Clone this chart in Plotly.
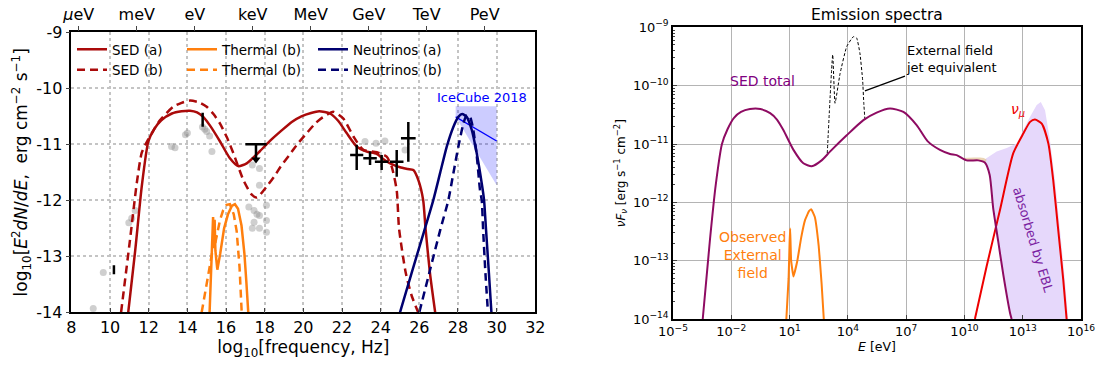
import numpy as np
import plotly.graph_objects as go

# ---------------- LEFT PANEL DATA (log10 nu [Hz], log10 E^2 dN/dE) ----------------
sed_a_x = [10.94, 11.3, 11.64, 11.98, 12.3, 12.65, 13.2, 13.7, 14.14, 14.5, 14.82, 15.2, 15.69, 16.2,
           16.63, 17.07, 17.76, 18.3, 18.82, 19.4, 19.9, 20.4, 20.82, 21.38, 21.8, 22.24, 22.76, 23.28,
           23.8, 24.2, 24.6, 25.0, 25.4, 25.69, 25.95, 26.2, 26.32, 26.55, 26.82]
sed_a_y = [-14.0, -12.9, -11.75, -10.95, -10.72, -10.57, -10.45, -10.41, -10.40, -10.43, -10.51, -10.68,
           -10.95, -11.25, -11.39, -11.34, -11.12, -10.93, -10.77, -10.6, -10.5, -10.44, -10.41, -10.45,
           -10.58, -10.8, -11.04, -11.13, -11.17, -11.28, -11.36, -11.41, -11.44, -11.46, -11.64, -12.0,
           -12.5, -13.3, -14.0]

sed_b_x = [10.57, 11.03, 11.38, 11.64, 11.98, 12.3, 12.58, 13.27, 13.7, 14.14, 14.6, 15.0, 15.35, 15.69,
           16.05, 16.38, 16.9, 17.33, 17.6, 18.09, 18.5, 18.82, 19.3, 19.73, 20.2, 20.64, 21.0, 21.55,
           22.07, 22.59, 23.1, 23.8, 24.31, 24.57, 24.83, 24.95, 25.3, 25.6, 26.0]
sed_b_y = [-14.0, -12.71, -11.7, -11.15, -10.91, -10.72, -10.57, -10.33, -10.26, -10.22, -10.25, -10.33,
           -10.46, -10.63, -10.88, -11.16, -11.64, -11.9, -11.95, -11.76, -11.57, -11.4, -11.18, -10.98,
           -10.79, -10.62, -10.52, -10.42, -10.54, -10.86, -11.1, -11.14, -11.22, -11.4, -11.82, -12.5,
           -13.3, -13.7, -14.05]

therm_a_x = [15.15, 15.28, 15.33, 15.37, 15.41, 15.45, 15.55, 15.7, 15.9, 16.1, 16.3, 16.46, 16.62,
             16.8, 16.95, 17.05, 17.15]
therm_a_y = [-14.0, -12.7, -12.3, -12.8, -12.35, -12.9, -13.24, -12.95, -12.5, -12.25, -12.1, -12.07,
             -12.15, -12.45, -12.95, -13.45, -14.0]

therm_b_x = [14.74, 15.08, 15.3, 15.35, 15.4, 15.48, 15.69, 15.85, 16.03, 16.2, 16.4, 16.55, 16.7, 16.81]
therm_b_y = [-14.0, -13.36, -12.9, -12.55, -12.85, -12.7, -12.35, -12.18, -12.08, -12.07, -12.25, -12.55,
             -13.2, -14.0]

nu_a_x = [25.0, 25.6, 26.18, 26.72, 27.07, 27.42, 27.76, 28.02, 28.22, 28.45, 28.71, 28.97, 29.23, 29.35,
          29.45, 29.6, 29.73]
nu_a_y = [-14.0, -13.3, -12.63, -12.0, -11.52, -11.04, -10.69, -10.51, -10.46, -10.51, -10.74, -11.16,
          -11.7, -12.0, -12.52, -13.3, -14.0]

nu_b_x = [26.0, 26.55, 27.09, 27.5, 27.76, 28.02, 28.28, 28.45, 28.62, 28.79, 28.97, 29.14, 29.23, 29.3,
          29.42, 29.55]
nu_b_y = [-14.0, -13.25, -12.52, -12.0, -11.52, -11.04, -10.63, -10.48, -10.51, -10.74, -11.2, -11.82,
          -12.0, -12.52, -13.3, -14.0]

icecube_band_x = [27.88, 30.0, 30.0, 27.88]
icecube_band_y = [-10.32, -10.32, -11.73, -10.51]
icecube_fit_x = [27.88, 30.0]
icecube_fit_y = [-10.51, -10.94]

gray_x = [9.13, 9.65, 10.97, 11.12, 11.3, 13.18, 13.36, 13.9, 14.0, 14.78, 14.9, 15.0, 15.15, 15.27,
          17.36, 17.73, 17.73, 17.18, 17.45, 17.73, 17.45, 18.09, 18.09, 17.36, 17.73, 18.09, 17.6,
          23.19, 23.76, 24.22, 25.26]
gray_y = [-13.93, -13.29, -12.4, -12.32, -12.18, -11.04, -11.06, -10.83, -10.8, -10.69, -10.73, -10.77,
          -10.85, -11.13, -11.37, -11.43, -11.73, -12.12, -12.18, -12.27, -12.39, -12.09, -12.36, -12.5,
          -12.5, -12.57, -12.25, -10.95, -10.98, -10.94, -11.1]

fermi_x = [22.76, 23.45, 24.05, 24.83, 25.43]
fermi_y = [-11.19, -11.25, -11.31, -11.31, -10.89]
fermi_xerr = [0.34, 0.35, 0.35, 0.35, 0.38]
fermi_yerr_up = [0.18, 0.12, 0.12, 0.21, 0.29]
fermi_yerr_dn = [0.27, 0.12, 0.15, 0.27, 0.42]

bar_x = [14.79, 10.2]
bar_y = [-10.56, -13.24]
bar_yerr = [0.125, 0.08]

ul_x = [17.55]
ul_y = [-11.0]
ul_xerr = [0.55]
ul_len = [0.27]

energy_eV = [1e-6, 1e-3, 1.0, 1e3, 1e6, 1e9, 1e12, 1e15]
energy_labels = ['<i>μ</i>eV', 'meV', 'eV', 'keV', 'MeV', 'GeV', 'TeV', 'PeV']
H_EV_S = 4.135667e-15  # Planck constant, eV s

# ---------------- RIGHT PANEL DATA (log10 E [eV], log10 nuF_nu) ----------------
sed_tot_lx = [-3.47, -3.1, -2.8, -2.48, -2.2, -1.86, -1.5, -1.04, -0.5, 0.0, 0.35, 0.68, 1.2, 1.71,
              2.14, 2.65, 3.08, 3.94, 4.8, 5.48, 6.17, 6.86, 7.55, 8.1, 8.74, 9.26, 9.6, 10.11, 10.71,
              11.06, 11.3, 11.48, 11.74, 12.0, 12.35, 12.43]
sed_tot_ly = [-14.0, -12.65, -11.7, -11.0, -10.75, -10.55, -10.45, -10.40, -10.40, -10.47, -10.58,
              -10.76, -11.1, -11.33, -11.38, -11.28, -11.13, -10.85, -10.59, -10.46, -10.39, -10.45,
              -10.68, -10.95, -11.1, -11.17, -11.19, -11.28, -11.28, -11.32, -11.53, -12.1, -12.67,
              -13.24, -13.9, -14.0]

ext_lx = [2.94, 3.22, 3.34, 3.6, 3.94, 4.28, 4.45, 4.62, 4.76, 4.82, 4.88]
ext_ly = [-11.16, -9.47, -10.30, -9.79, -9.33, -9.16, -9.18, -9.44, -9.9, -10.3, -10.59]

obs_ext_lx = [0.8, 0.95, 1.0, 1.03, 1.08, 1.2, 1.4, 1.6, 1.8, 2.0, 2.12, 2.3, 2.5, 2.65, 2.78]
obs_ext_ly = [-14.2, -13.3, -12.7, -12.45, -13.0, -13.27, -13.0, -12.6, -12.3, -12.15, -12.12, -12.25,
              -12.75, -13.4, -14.1]

ebl_up_lx = [10.89, 11.15, 11.66, 12.18, 12.69, 13.03, 13.38, 13.72, 13.93, 14.15, 14.4, 14.66, 14.92,
             15.17, 15.34]
ebl_up_ly = [-11.3, -11.24, -11.13, -11.07, -10.99, -10.76, -10.53, -10.33, -10.28, -10.42, -10.93,
             -11.62, -12.48, -13.33, -14.0]

tan_up_lx = [9.9, 10.2, 10.5, 10.8, 11.0, 11.15]
tan_up_ly = [-11.24, -11.235, -11.23, -11.23, -11.24, -11.27]

numu_lx = [10.54, 11.14, 11.83, 12.51, 13.03, 13.38, 13.63, 13.98, 14.32, 14.57, 14.83, 15.09, 15.26]
numu_ly = [-14.0, -13.1, -12.13, -11.16, -10.82, -10.62, -10.58, -10.65, -10.99, -11.62, -12.48,
           -13.34, -14.0]

# ---------------- FIGURE ----------------
RED = '#aa0a0a'
ORANGE = '#ff7f0e'
NAVY = '#000070'
DASH = '8px,5px'
p = lambda a: np.power(10.0, np.asarray(a, dtype=float))

fig = go.Figure()

# left panel
fig.add_trace(go.Scatter(x=icecube_band_x, y=icecube_band_y, fill='toself', mode='none',
                         fillcolor='rgba(0,0,255,0.2)', showlegend=False, hoverinfo='skip'))
fig.add_trace(go.Scatter(x=icecube_fit_x, y=icecube_fit_y, mode='lines', line=dict(color='blue', width=1.3),
                         showlegend=False))
fig.add_trace(go.Scatter(x=gray_x, y=gray_y, mode='markers', showlegend=False,
                         marker=dict(size=7, color='rgba(140,140,140,0.42)', line=dict(width=0))))

fig.add_trace(go.Scatter(x=sed_a_x, y=sed_a_y, mode='lines', name='SED (a)', legend='legend',
                         line=dict(color=RED, width=2.5, shape='spline', smoothing=0.6)))
fig.add_trace(go.Scatter(x=sed_b_x, y=sed_b_y, mode='lines', name='SED (b)', legend='legend',
                         line=dict(color=RED, width=2.5, dash=DASH, shape='spline', smoothing=0.6)))
fig.add_trace(go.Scatter(x=therm_a_x, y=therm_a_y, mode='lines', name='Thermal (b)', legend='legend2',
                         line=dict(color=ORANGE, width=2.5)))
fig.add_trace(go.Scatter(x=therm_b_x, y=therm_b_y, mode='lines', name='Thermal (b)', legend='legend2',
                         line=dict(color=ORANGE, width=2.5, dash=DASH)))
fig.add_trace(go.Scatter(x=nu_a_x, y=nu_a_y, mode='lines', name='Neutrinos (a)', legend='legend3',
                         line=dict(color=NAVY, width=2.5, shape='spline', smoothing=0.6)))
fig.add_trace(go.Scatter(x=nu_b_x, y=nu_b_y, mode='lines', name='Neutrinos (b)', legend='legend3',
                         line=dict(color=NAVY, width=2.5, dash=DASH, shape='spline', smoothing=0.6)))

# black data points
fig.add_trace(go.Scatter(x=fermi_x, y=fermi_y, mode='markers', showlegend=False,
                         marker=dict(size=1, color='black'),
                         error_x=dict(type='data', array=fermi_xerr, color='black', thickness=2.5, width=0),
                         error_y=dict(type='data', symmetric=False, array=fermi_yerr_up,
                                      arrayminus=fermi_yerr_dn, color='black', thickness=2.5, width=0)))
fig.add_trace(go.Scatter(x=bar_x, y=bar_y, mode='markers', showlegend=False,
                         marker=dict(size=1, color='black'),
                         error_y=dict(type='data', array=bar_yerr, color='black', thickness=2.5, width=0)))
fig.add_trace(go.Scatter(x=ul_x, y=ul_y, mode='markers', showlegend=False,
                         marker=dict(size=1, color='black'),
                         error_x=dict(type='data', array=ul_xerr, color='black', thickness=2.5, width=0),
                         error_y=dict(type='data', symmetric=False, array=[0], arrayminus=ul_len,
                                      color='black', thickness=2.5, width=0)))
fig.add_trace(go.Scatter(x=ul_x, y=[ul_y[0] - ul_len[0]], mode='markers', showlegend=False,
                         marker=dict(symbol='triangle-down', size=8, color='black')))

# hidden trace to carry the top energy axis
top_vals = [float(np.log10(e / H_EV_S)) for e in energy_eV]
fig.add_trace(go.Scatter(x=[8, 32], y=[-20, -20], xaxis='x3', yaxis='y', mode='markers',
                         marker=dict(opacity=0), showlegend=False, hoverinfo='skip'))

# right panel
sed_lx = np.asarray(sed_tot_lx)
sed_ly = np.asarray(sed_tot_ly)
mask = sed_lx >= ebl_up_lx[0]
ebl_x = list(ebl_up_lx) + [ebl_up_lx[-1], sed_lx[mask][-1]] + list(sed_lx[mask][::-1])
ebl_y = list(ebl_up_ly) + [-14.5, -14.5] + list(sed_ly[mask][::-1])
fig.add_trace(go.Scatter(x=p(ebl_x), y=p(ebl_y), xaxis='x2', yaxis='y2', fill='toself', mode='none',
                         fillcolor='#e6d8fb', showlegend=False, hoverinfo='skip'))
mask2 = (sed_lx >= tan_up_lx[0]) & (sed_lx <= tan_up_lx[-1])
tan_x = list(tan_up_lx) + list(sed_lx[mask2][::-1])
tan_y = list(tan_up_ly) + list(sed_ly[mask2][::-1])
fig.add_trace(go.Scatter(x=p(tan_x), y=p(tan_y), xaxis='x2', yaxis='y2', fill='toself', mode='none',
                         fillcolor='rgba(225,195,150,0.7)', showlegend=False, hoverinfo='skip'))

fig.add_trace(go.Scatter(x=p(ext_lx), y=p(ext_ly), xaxis='x2', yaxis='y2', mode='lines', showlegend=False,
                         line=dict(color='black', width=1, dash='3px,2px', shape='spline', smoothing=0.4)))
fig.add_trace(go.Scatter(x=p(obs_ext_lx), y=p(obs_ext_ly), xaxis='x2', yaxis='y2', mode='lines',
                         showlegend=False, line=dict(color=ORANGE, width=2, shape='spline', smoothing=0.3)))
fig.add_trace(go.Scatter(x=p(numu_lx), y=p(numu_ly), xaxis='x2', yaxis='y2', mode='lines',
                         showlegend=False, line=dict(color='#ee0000', width=2, shape='spline', smoothing=0.6)))
fig.add_trace(go.Scatter(x=p(sed_tot_lx), y=p(sed_tot_ly), xaxis='x2', yaxis='y2', mode='lines',
                         showlegend=False, line=dict(color='#8e0b62', width=2, shape='spline', smoothing=0.6)))

W, H = 1099, 369
# plot-area geometry in pixels
L_X0, L_X1, L_Y0, L_Y1 = 71.4, 535.3, 32.3, 312.3
R_X0, R_X1, R_Y0, R_Y1 = 673.0, 1081.0, 27.4, 319.0

ytv = list(range(-14, -8))
xr_ticks = list(range(-5, 17, 3))
yr_ticks = list(range(-14, -8))
minor_vals = [k * 10.0 ** d for d in range(-14, -9) for k in range(2, 10)]
sup = lambda n: '10<sup>' + (('−' + str(-n)) if n < 0 else str(n)) + '</sup>'

grid_dot = dict(showgrid=True, gridcolor='#c4c4c4', griddash='dot', gridwidth=1.5)

fig.update_layout(
    width=W, height=H, margin=dict(l=0, r=0, t=0, b=0, autoexpand=False),
    paper_bgcolor='white', plot_bgcolor='white',
    font=dict(family='DejaVu Sans', color='black'),
    xaxis=dict(domain=[L_X0 / W, L_X1 / W], range=[8, 32], anchor='y', automargin=False,
               tickvals=list(range(8, 33, 2)), ticks='inside', ticklen=5, tickwidth=1.2,
               showline=True, mirror=True, linecolor='black', linewidth=1.5, zeroline=False,
               tickfont=dict(size=16), **grid_dot,
               title=dict(text='log<sub>10</sub>[frequency, Hz]', font=dict(size=17), standoff=4)),
    yaxis=dict(domain=[1 - L_Y1 / H, 1 - L_Y0 / H], range=[-14, -9], anchor='x', automargin=False,
               tickvals=ytv, ticktext=[str(v) for v in ytv], ticks='outside', ticklen=4, tickwidth=1.2,
               showline=True, mirror=True, linecolor='black', linewidth=1.5, zeroline=False,
               tickfont=dict(size=16), **grid_dot,
               title=dict(text='log<sub>10</sub>[<i>E</i><sup>2</sup><i>dN</i>/<i>dE</i>,  erg cm<sup>−2</sup> s<sup>−1</sup>]',
                          font=dict(size=17), standoff=4)),
    xaxis3=dict(overlaying='x', side='top', anchor='y', range=[8, 32], tickvals=top_vals, automargin=False,
                ticktext=energy_labels, ticks='outside', ticklen=5, tickwidth=1.2, showgrid=False,
                zeroline=False, showline=False, tickfont=dict(size=16)),
    xaxis2=dict(domain=[R_X0 / W, R_X1 / W], type='log', range=[-5, 16], anchor='y2', automargin=False,
                tickvals=[10.0 ** k for k in xr_ticks], ticktext=[sup(k) for k in xr_ticks],
                ticks='inside', ticklen=4, showline=True, mirror=True, linecolor='black', linewidth=1.5,
                showgrid=True, gridcolor='#b4b4b4', gridwidth=1, zeroline=False, tickfont=dict(size=13),
                title=dict(text='<i>E</i> [eV]', font=dict(size=12.5), standoff=2)),
    yaxis2=dict(domain=[1 - R_Y1 / H, 1 - R_Y0 / H], type='log', range=[-14, -9], anchor='x2',
                automargin=False,
                tickvals=[10.0 ** k for k in yr_ticks], ticktext=[sup(k) for k in yr_ticks],
                ticks='inside', ticklen=4, showline=True, mirror=True, linecolor='black', linewidth=1.5,
                showgrid=True, gridcolor='#b4b4b4', gridwidth=1, zeroline=False, tickfont=dict(size=13),
                minor=dict(tickvals=minor_vals, ticks='inside', ticklen=2, showgrid=False),
                title=dict(text='<i>ν</i><i>F</i><sub><i>ν</i></sub> [erg s<sup>−1</sup> cm<sup>−2</sup>]',
                           font=dict(size=12), standoff=5)),
    legend=dict(x=72 / W, y=1 - 34 / H, xanchor='left', yanchor='top', bgcolor='rgba(0,0,0,0)',
                font=dict(size=13.5), tracegroupgap=0),
    legend2=dict(x=182 / W, y=1 - 34 / H, xanchor='left', yanchor='top', bgcolor='rgba(0,0,0,0)',
                 font=dict(size=13.5), tracegroupgap=0),
    legend3=dict(x=313 / W, y=1 - 34 / H, xanchor='left', yanchor='top', bgcolor='rgba(0,0,0,0)',
                 font=dict(size=13.5), tracegroupgap=0),
)

ann = [
    dict(x=29.22, y=-10.17, xref='x', yref='y', text='IceCube 2018', showarrow=False,
         font=dict(size=13, color='blue')),
    dict(x=(R_X0 + R_X1) / 2 / W, y=1 - 15 / H, xref='paper', yref='paper', text='Emission spectra',
         showarrow=False, xanchor='center', yanchor='middle', font=dict(size=15.5)),
    dict(x=-0.37, y=-9.92, xref='x2', yref='y2', text='SED total', showarrow=False,
         font=dict(size=14, color='purple')),
    dict(x=-0.93, y=-12.91, xref='x2', yref='y2', text='Observed<br>External<br>field', showarrow=False,
         font=dict(size=14, color=ORANGE)),
    dict(x=12.76, y=-10.42, xref='x2', yref='y2', text='<i>ν</i><sub><i>μ</i></sub>', showarrow=False,
         font=dict(size=14, color='#ee0000')),
    dict(x=13.55, y=-12.65, xref='x2', yref='y2', text='absorbed by EBL', showarrow=False, textangle=73,
         font=dict(size=13, color='#7b1fa2')),
    dict(x=4.88, y=-10.09, xref='x2', yref='y2', ax=9.36, ay=-9.54, axref='x2', ayref='y2',
         text='External field<br>jet equivalent', align='left', showarrow=True, arrowhead=0,
         arrowwidth=1.3, arrowcolor='black', font=dict(size=13)),
]
fig.update_layout(annotations=ann)

fig.write_html('out.html', config={'displayModeBar': False},
               post_script="document.body.style.margin='0px';")
